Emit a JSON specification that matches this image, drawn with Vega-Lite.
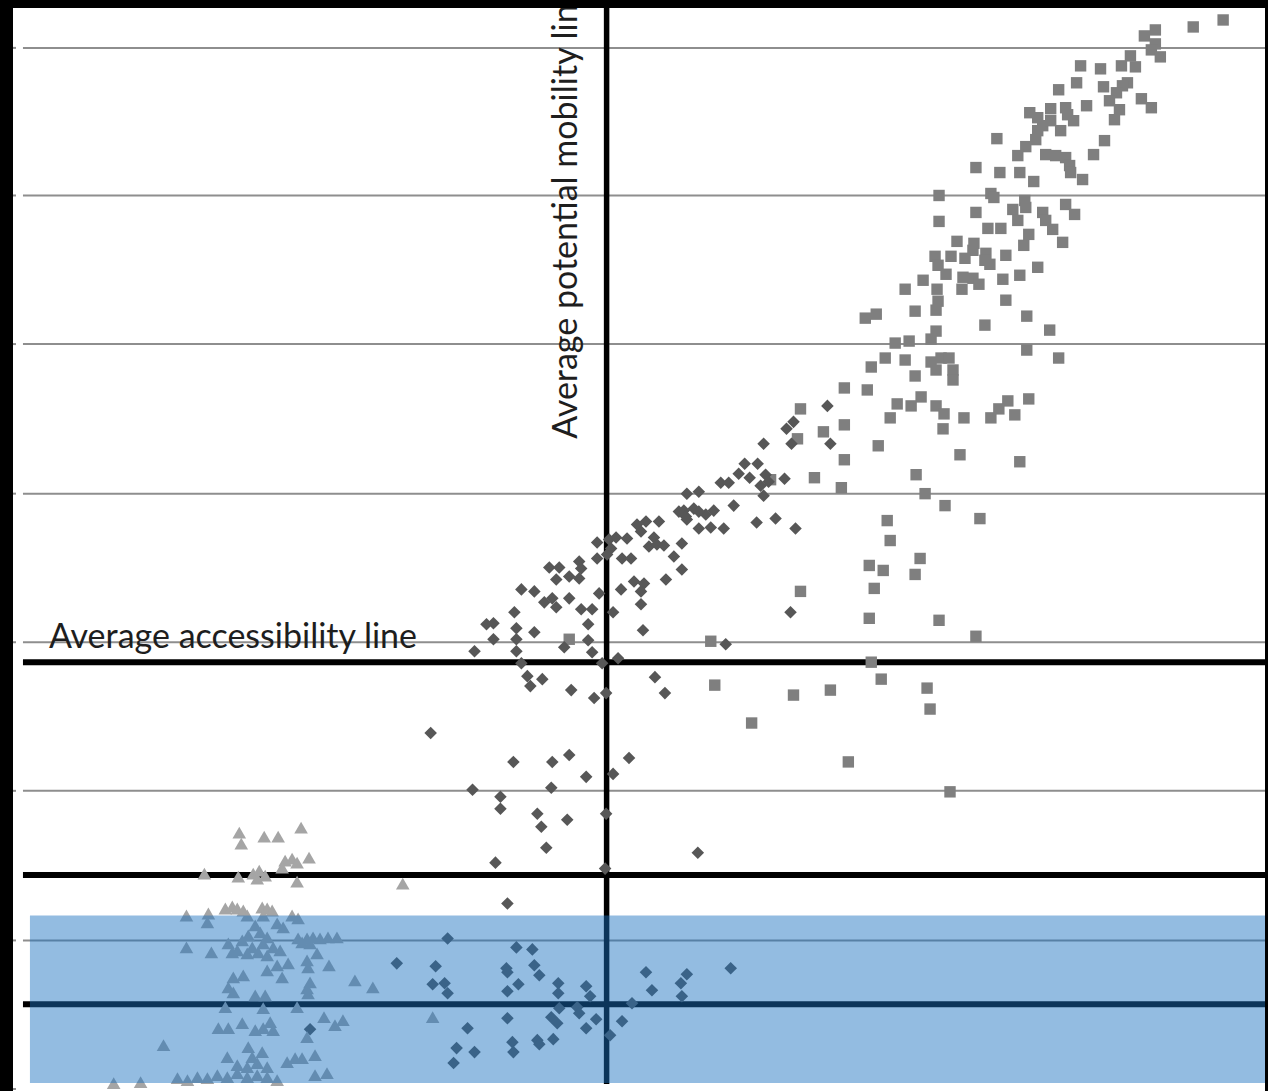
{
  "$schema": "https://vega.github.io/schema/vega-lite/v6.json",
  "width": 1268,
  "height": 1091,
  "autosize": {"type": "fit", "contains": "padding"},
  "padding": {"left": 12, "top": 5, "right": 0, "bottom": 0},
  "background": "#000000",
  "config": {"view": {"fill": "#ffffff", "stroke": null}},
  "datasets": {
    "grid": [{"y": 104.6}, {"y": 89.8}, {"y": 74.9}, {"y": 59.9}, {"y": 45.0}, {"y": 30.1}, {"y": 15.1}],
    "ticks": [{"y": 104.6}, {"y": 89.8}, {"y": 74.9}, {"y": 59.9}, {"y": 45.0}, {"y": 30.1}, {"y": 15.1}, {"y": 0.2}],
    "avg": [{"y": 43.0}, {"y": 21.65}, {"y": 8.7}],
    "vline": [{"x": 60.75}],
    "pts": [
      {"g":"s","x":122.6,"y":107.4},{"g":"s","x":119.6,"y":106.7},{"g":"s","x":115.8,"y":106.4},{"g":"s","x":114.7,"y":105.8},{"g":"s","x":115.8,"y":105.0},{"g":"s","x":115.4,"y":104.4},{"g":"s","x":116.3,"y":103.7},{"g":"s","x":113.3,"y":103.8},{"g":"s","x":113.8,"y":102.7},{"g":"s","x":112.4,"y":102.8},{"g":"s","x":110.3,"y":102.5},{"g":"s","x":108.3,"y":102.8},{"g":"s","x":107.9,"y":101.1},{"g":"s","x":106.1,"y":100.4},{"g":"s","x":110.6,"y":100.7},{"g":"s","x":113.0,"y":101.1},{"g":"s","x":112.5,"y":100.8},{"g":"s","x":111.9,"y":100.1},{"g":"s","x":111.2,"y":99.3},{"g":"s","x":112.2,"y":98.4},{"g":"s","x":111.7,"y":97.4},{"g":"s","x":108.9,"y":98.8},{"g":"s","x":114.4,"y":99.5},{"g":"s","x":115.4,"y":98.6},{"g":"s","x":103.2,"y":98.1},{"g":"s","x":104.0,"y":97.6},{"g":"s","x":105.3,"y":98.5},{"g":"s","x":106.8,"y":98.6},{"g":"s","x":107.0,"y":97.9},{"g":"s","x":107.6,"y":97.3},{"g":"s","x":104.5,"y":96.8},{"g":"s","x":105.3,"y":97.3},{"g":"s","x":106.3,"y":96.3},{"g":"s","x":104.0,"y":96.3},{"g":"s","x":99.9,"y":95.5},{"g":"s","x":103.8,"y":95.4},{"g":"s","x":102.8,"y":94.7},{"g":"s","x":102.0,"y":93.8},{"g":"s","x":104.8,"y":93.9},{"g":"s","x":105.8,"y":93.8},{"g":"s","x":106.8,"y":93.6},{"g":"s","x":107.2,"y":92.8},{"g":"s","x":107.3,"y":92.1},{"g":"s","x":108.5,"y":91.4},{"g":"s","x":110.7,"y":95.3},{"g":"s","x":109.6,"y":93.9},{"g":"s","x":97.8,"y":92.6},{"g":"s","x":100.2,"y":92.1},{"g":"s","x":102.2,"y":92.1},{"g":"s","x":103.6,"y":91.2},{"g":"s","x":94.1,"y":89.8},{"g":"s","x":99.3,"y":90.0},{"g":"s","x":99.6,"y":89.6},{"g":"s","x":102.7,"y":89.3},{"g":"s","x":102.8,"y":88.6},{"g":"s","x":101.5,"y":88.4},{"g":"s","x":102.0,"y":87.3},{"g":"s","x":97.8,"y":88.1},{"g":"s","x":94.1,"y":87.2},{"g":"s","x":99.0,"y":86.5},{"g":"s","x":100.3,"y":86.5},{"g":"s","x":104.5,"y":88.1},{"g":"s","x":104.8,"y":87.3},{"g":"s","x":105.5,"y":86.4},{"g":"s","x":106.8,"y":88.9},{"g":"s","x":107.7,"y":87.9},{"g":"s","x":106.5,"y":85.1},{"g":"s","x":95.9,"y":85.2},{"g":"s","x":97.6,"y":85.0},{"g":"s","x":97.5,"y":84.3},{"g":"s","x":96.7,"y":83.5},{"g":"s","x":95.3,"y":83.7},{"g":"s","x":93.7,"y":83.7},{"g":"s","x":94.0,"y":82.8},{"g":"s","x":94.8,"y":81.9},{"g":"s","x":92.5,"y":81.3},{"g":"s","x":90.7,"y":80.4},{"g":"s","x":93.9,"y":80.4},{"g":"s","x":96.4,"y":80.4},{"g":"s","x":96.5,"y":81.6},{"g":"s","x":97.5,"y":81.5},{"g":"s","x":98.1,"y":80.9},{"g":"s","x":98.8,"y":84.0},{"g":"s","x":99.2,"y":82.9},{"g":"s","x":98.7,"y":83.3},{"g":"s","x":100.8,"y":83.8},{"g":"s","x":100.5,"y":81.4},{"g":"s","x":102.2,"y":81.8},{"g":"s","x":102.6,"y":84.8},{"g":"s","x":103.1,"y":85.9},{"g":"s","x":104.0,"y":82.6},
      {"g":"s","x":100.8,"y":79.3},{"g":"s","x":94.0,"y":79.2},{"g":"s","x":93.8,"y":78.3},{"g":"s","x":91.7,"y":78.2},{"g":"s","x":87.8,"y":77.9},{"g":"s","x":86.7,"y":77.5},{"g":"s","x":102.9,"y":77.7},{"g":"s","x":98.7,"y":76.8},{"g":"s","x":105.2,"y":76.3},{"g":"s","x":93.8,"y":76.2},{"g":"s","x":93.3,"y":75.4},{"g":"s","x":91.1,"y":75.2},{"g":"s","x":89.7,"y":75.0},{"g":"s","x":102.9,"y":74.3},{"g":"s","x":106.1,"y":73.5},{"g":"s","x":88.7,"y":73.5},{"g":"s","x":90.7,"y":73.3},{"g":"s","x":93.3,"y":73.1},{"g":"s","x":94.3,"y":73.5},{"g":"s","x":95.1,"y":73.5},{"g":"s","x":93.8,"y":72.3},{"g":"s","x":95.5,"y":72.3},{"g":"s","x":95.5,"y":71.3},{"g":"s","x":87.3,"y":72.6},{"g":"s","x":91.7,"y":71.7},{"g":"s","x":84.6,"y":70.5},{"g":"s","x":86.9,"y":70.3},{"g":"s","x":92.3,"y":69.6},{"g":"s","x":89.9,"y":68.9},{"g":"s","x":91.3,"y":68.7},{"g":"s","x":93.8,"y":68.7},{"g":"s","x":94.6,"y":67.9},{"g":"s","x":101.0,"y":69.2},{"g":"s","x":103.1,"y":69.4},{"g":"s","x":100.1,"y":68.4},{"g":"s","x":99.3,"y":67.5},{"g":"s","x":101.7,"y":67.8},{"g":"s","x":96.6,"y":67.5},{"g":"s","x":89.2,"y":67.5},{"g":"s","x":80.2,"y":68.4},{"g":"s","x":84.6,"y":66.8},{"g":"s","x":82.5,"y":66.1},{"g":"s","x":79.9,"y":65.4},{"g":"s","x":94.5,"y":66.4},{"g":"s","x":88.0,"y":64.7},{"g":"s","x":96.2,"y":63.8},{"g":"s","x":102.2,"y":63.1},{"g":"s","x":84.6,"y":63.3},{"g":"s","x":91.8,"y":61.8},{"g":"s","x":81.6,"y":61.5},{"g":"s","x":84.3,"y":60.5},{"g":"s","x":92.7,"y":59.9},{"g":"s","x":94.7,"y":58.7},{"g":"s","x":88.9,"y":57.2},{"g":"s","x":98.2,"y":57.4},{"g":"s","x":77.2,"y":61.3},
      {"g":"s","x":80.2,"y":50.1},{"g":"s","x":71.2,"y":45.1},{"g":"s","x":57.0,"y":45.3},{"g":"s","x":71.6,"y":40.7},{"g":"s","x":79.5,"y":39.7},{"g":"s","x":83.2,"y":40.2},{"g":"s","x":89.2,"y":55.2},{"g":"s","x":92.2,"y":53.4},{"g":"s","x":87.1,"y":52.7},{"g":"s","x":88.5,"y":52.2},{"g":"s","x":91.7,"y":51.8},{"g":"s","x":87.6,"y":50.4},{"g":"s","x":87.1,"y":47.4},{"g":"s","x":94.1,"y":47.2},{"g":"s","x":97.8,"y":45.6},{"g":"s","x":87.3,"y":43.0},{"g":"s","x":88.3,"y":41.3},{"g":"s","x":92.9,"y":40.4},{"g":"s","x":93.2,"y":38.3},{"g":"s","x":75.3,"y":36.9},{"g":"s","x":85.0,"y":33.0},{"g":"s","x":95.2,"y":30.0},
      {"g":"d","x":82.9,"y":68.7},{"g":"d","x":79.5,"y":67.1},{"g":"d","x":78.8,"y":66.4},{"g":"d","x":79.3,"y":64.9},{"g":"d","x":83.2,"y":64.9},{"g":"d","x":76.5,"y":64.9},{"g":"d","x":74.6,"y":62.9},{"g":"d","x":75.9,"y":62.9},{"g":"d","x":74.0,"y":61.9},{"g":"d","x":75.1,"y":61.5},{"g":"d","x":76.7,"y":61.8},{"g":"d","x":77.0,"y":61.1},{"g":"d","x":76.2,"y":60.7},{"g":"d","x":76.5,"y":59.7},{"g":"d","x":78.6,"y":61.4},{"g":"d","x":72.2,"y":61.0},{"g":"d","x":73.0,"y":61.0},{"g":"d","x":68.8,"y":59.9},{"g":"d","x":70.0,"y":60.1},{"g":"d","x":69.5,"y":58.4},{"g":"d","x":68.5,"y":58.2},{"g":"d","x":71.5,"y":58.2},{"g":"d","x":70.7,"y":57.8},{"g":"d","x":73.5,"y":58.7},{"g":"d","x":75.8,"y":57.0},{"g":"d","x":77.7,"y":57.4},{"g":"d","x":79.7,"y":56.4},{"g":"d","x":68.0,"y":58.1},{"g":"d","x":68.7,"y":57.6},{"g":"d","x":70.0,"y":58.1},{"g":"d","x":68.8,"y":57.3},{"g":"d","x":70.0,"y":56.4},{"g":"d","x":71.2,"y":56.5},{"g":"d","x":72.5,"y":56.4},{"g":"d","x":66.0,"y":57.1},{"g":"d","x":63.8,"y":56.8},{"g":"d","x":64.2,"y":56.1},{"g":"d","x":64.7,"y":57.1},{"g":"d","x":65.5,"y":55.5},{"g":"d","x":62.8,"y":55.4},{"g":"d","x":59.8,"y":55.0},{"g":"d","x":61.0,"y":55.3},{"g":"d","x":61.7,"y":55.5},{"g":"d","x":61.2,"y":54.4},{"g":"d","x":60.8,"y":53.8},{"g":"d","x":59.8,"y":53.4},{"g":"d","x":62.3,"y":53.4},{"g":"d","x":63.2,"y":53.4},{"g":"d","x":65.0,"y":54.6},{"g":"d","x":65.8,"y":54.8},{"g":"d","x":66.5,"y":54.7},{"g":"d","x":67.5,"y":53.6},{"g":"d","x":68.3,"y":52.3},{"g":"d","x":66.7,"y":51.3},{"g":"d","x":68.3,"y":54.9},{"g":"d","x":58.0,"y":53.1},{"g":"d","x":58.2,"y":52.4},{"g":"d","x":55.0,"y":52.5},{"g":"d","x":56.0,"y":52.5},{"g":"d","x":55.7,"y":51.3},{"g":"d","x":57.0,"y":51.6},{"g":"d","x":58.0,"y":51.4},{"g":"d","x":52.2,"y":50.3},{"g":"d","x":53.5,"y":50.1},{"g":"d","x":54.5,"y":49.0},{"g":"d","x":55.3,"y":49.4},{"g":"d","x":55.7,"y":48.5},{"g":"d","x":57.0,"y":49.4},{"g":"d","x":58.2,"y":48.3},{"g":"d","x":59.3,"y":48.3},{"g":"d","x":60.0,"y":49.9},{"g":"d","x":62.2,"y":50.3},{"g":"d","x":63.5,"y":51.1},{"g":"d","x":64.5,"y":50.9},{"g":"d","x":64.2,"y":50.1},{"g":"d","x":64.2,"y":48.8},{"g":"d","x":61.4,"y":48.0},{"g":"d","x":51.5,"y":48.0},{"g":"d","x":48.7,"y":46.8},{"g":"d","x":49.4,"y":46.9},{"g":"d","x":51.7,"y":46.4},{"g":"d","x":51.7,"y":45.3},{"g":"d","x":53.5,"y":46.0},{"g":"d","x":49.4,"y":45.3},{"g":"d","x":47.5,"y":44.1},{"g":"d","x":51.7,"y":44.1},{"g":"d","x":52.2,"y":42.9},{"g":"d","x":52.8,"y":41.6},{"g":"d","x":53.1,"y":40.6},{"g":"d","x":54.3,"y":41.3},{"g":"d","x":57.2,"y":40.2},{"g":"d","x":58.9,"y":46.8},{"g":"d","x":58.9,"y":45.2},{"g":"d","x":59.3,"y":44.0},{"g":"d","x":56.5,"y":44.5},{"g":"d","x":60.3,"y":42.9},{"g":"d","x":61.9,"y":43.4},{"g":"d","x":64.4,"y":46.2},{"g":"d","x":65.6,"y":41.5},{"g":"d","x":66.6,"y":39.9},{"g":"d","x":59.5,"y":39.4},{"g":"d","x":60.7,"y":39.9},{"g":"d","x":79.2,"y":48.0},{"g":"d","x":72.7,"y":44.8},
      {"g":"d","x":43.1,"y":35.9},{"g":"d","x":51.4,"y":33.0},{"g":"d","x":55.3,"y":33.0},{"g":"d","x":57.0,"y":33.7},{"g":"d","x":58.7,"y":31.5},{"g":"d","x":63.0,"y":33.4},{"g":"d","x":61.4,"y":31.8},{"g":"d","x":47.3,"y":30.2},{"g":"d","x":55.2,"y":30.4},{"g":"d","x":50.1,"y":29.5},{"g":"d","x":50.1,"y":28.3},{"g":"d","x":53.8,"y":27.8},{"g":"d","x":54.2,"y":26.5},{"g":"d","x":56.8,"y":27.2},{"g":"d","x":60.7,"y":27.8},{"g":"d","x":54.7,"y":24.4},{"g":"d","x":69.9,"y":23.9},{"g":"d","x":49.6,"y":22.9},{"g":"d","x":60.6,"y":22.3},{"g":"d","x":50.8,"y":18.8},
      {"g":"d","x":44.8,"y":15.3},{"g":"d","x":39.7,"y":12.8},{"g":"d","x":43.6,"y":12.5},{"g":"d","x":43.3,"y":10.7},{"g":"d","x":44.5,"y":10.8},{"g":"d","x":44.8,"y":9.8},{"g":"d","x":51.7,"y":14.4},{"g":"d","x":53.3,"y":14.2},{"g":"d","x":50.7,"y":12.3},{"g":"d","x":50.8,"y":11.9},{"g":"d","x":53.5,"y":12.6},{"g":"d","x":54.0,"y":11.6},{"g":"d","x":51.9,"y":10.7},{"g":"d","x":50.8,"y":10.0},{"g":"d","x":55.9,"y":10.8},{"g":"d","x":55.9,"y":9.8},{"g":"d","x":58.7,"y":10.5},{"g":"d","x":59.1,"y":9.5},{"g":"d","x":56.0,"y":8.3},{"g":"d","x":55.2,"y":7.4},{"g":"d","x":55.8,"y":6.8},{"g":"d","x":57.8,"y":8.4},{"g":"d","x":58.0,"y":7.8},{"g":"d","x":59.7,"y":7.2},{"g":"d","x":58.7,"y":6.3},{"g":"d","x":50.8,"y":7.3},{"g":"d","x":46.8,"y":6.3},{"g":"d","x":45.7,"y":4.3},{"g":"d","x":47.5,"y":3.9},{"g":"d","x":45.4,"y":2.8},{"g":"d","x":51.3,"y":4.9},{"g":"d","x":51.4,"y":3.9},{"g":"d","x":53.8,"y":5.1},{"g":"d","x":54.0,"y":4.7},{"g":"d","x":55.4,"y":5.2},{"g":"d","x":61.1,"y":5.6},{"g":"d","x":62.3,"y":7.0},{"g":"d","x":63.3,"y":8.8},{"g":"d","x":64.7,"y":11.9},{"g":"d","x":65.3,"y":10.1},{"g":"d","x":68.2,"y":10.8},{"g":"d","x":68.8,"y":11.7},{"g":"d","x":68.3,"y":9.5},{"g":"d","x":73.2,"y":12.3},{"g":"d","x":31.0,"y":6.2},
      {"g":"t","x":23.9,"y":25.9},{"g":"t","x":24.1,"y":24.8},{"g":"t","x":26.4,"y":25.5},{"g":"t","x":27.8,"y":25.5},{"g":"t","x":30.1,"y":26.4},{"g":"t","x":30.9,"y":23.4},{"g":"t","x":28.5,"y":23.1},{"g":"t","x":29.2,"y":23.3},{"g":"t","x":29.7,"y":22.9},{"g":"t","x":28.2,"y":22.4},{"g":"t","x":20.4,"y":21.8},{"g":"t","x":23.8,"y":21.5},{"g":"t","x":25.3,"y":21.8},{"g":"t","x":25.9,"y":22.1},{"g":"t","x":26.5,"y":21.6},{"g":"t","x":25.7,"y":21.3},{"g":"t","x":29.7,"y":21.0},{"g":"t","x":40.3,"y":20.8},{"g":"t","x":18.6,"y":17.6},{"g":"t","x":20.8,"y":17.8},{"g":"t","x":20.7,"y":16.9},{"g":"t","x":22.5,"y":18.3},{"g":"t","x":23.2,"y":18.5},{"g":"t","x":23.7,"y":18.3},{"g":"t","x":24.3,"y":18.1},{"g":"t","x":24.7,"y":17.6},{"g":"t","x":26.2,"y":18.4},{"g":"t","x":26.7,"y":18.3},{"g":"t","x":27.2,"y":18.1},{"g":"t","x":26.3,"y":17.6},{"g":"t","x":29.2,"y":17.6},{"g":"t","x":29.8,"y":17.3},{"g":"t","x":25.5,"y":16.6},{"g":"t","x":26.0,"y":15.9},{"g":"t","x":24.8,"y":15.6},{"g":"t","x":24.2,"y":15.1},{"g":"t","x":26.7,"y":15.4},{"g":"t","x":25.2,"y":14.4},{"g":"t","x":26.3,"y":14.8},{"g":"t","x":27.3,"y":14.4},{"g":"t","x":23.7,"y":14.1},{"g":"t","x":24.7,"y":13.8},{"g":"t","x":25.8,"y":13.9},{"g":"t","x":26.7,"y":13.6},{"g":"t","x":22.8,"y":14.8},{"g":"t","x":23.2,"y":13.9},{"g":"t","x":27.7,"y":16.8},{"g":"t","x":28.3,"y":16.4},{"g":"t","x":29.8,"y":15.3},{"g":"t","x":30.7,"y":15.3},{"g":"t","x":31.3,"y":15.4},{"g":"t","x":32.0,"y":15.3},{"g":"t","x":32.8,"y":15.4},{"g":"t","x":33.7,"y":15.4},{"g":"t","x":30.2,"y":14.9},{"g":"t","x":31.0,"y":14.8},{"g":"t","x":18.6,"y":14.4},{"g":"t","x":21.1,"y":13.9},{"g":"t","x":28.0,"y":14.1},{"g":"t","x":28.8,"y":12.8},{"g":"t","x":27.7,"y":12.6},{"g":"t","x":26.7,"y":12.1},{"g":"t","x":28.2,"y":11.4},{"g":"t","x":30.7,"y":13.1},{"g":"t","x":31.7,"y":13.8},{"g":"t","x":30.8,"y":12.4},{"g":"t","x":32.9,"y":12.6},{"g":"t","x":35.5,"y":11.1},{"g":"t","x":37.3,"y":10.4},{"g":"t","x":23.3,"y":11.4},{"g":"t","x":24.3,"y":11.6},{"g":"t","x":22.8,"y":10.4},{"g":"t","x":23.3,"y":9.9},{"g":"t","x":25.5,"y":9.6},{"g":"t","x":26.5,"y":9.6},{"g":"t","x":31.0,"y":10.9},{"g":"t","x":30.8,"y":9.8},{"g":"t","x":30.7,"y":10.3},{"g":"t","x":22.5,"y":8.4},{"g":"t","x":26.3,"y":8.3},{"g":"t","x":29.7,"y":8.4},{"g":"t","x":21.8,"y":6.3},{"g":"t","x":22.8,"y":6.3},{"g":"t","x":24.2,"y":6.8},{"g":"t","x":25.5,"y":6.1},{"g":"t","x":26.3,"y":6.3},{"g":"t","x":27.0,"y":6.9},{"g":"t","x":27.3,"y":6.1},{"g":"t","x":32.4,"y":7.4},{"g":"t","x":33.5,"y":6.6},{"g":"t","x":34.3,"y":7.1},{"g":"t","x":30.7,"y":5.4},{"g":"t","x":16.3,"y":4.6},{"g":"t","x":22.7,"y":3.4},{"g":"t","x":24.8,"y":4.4},{"g":"t","x":26.2,"y":3.9},{"g":"t","x":25.2,"y":3.4},{"g":"t","x":28.7,"y":2.9},{"g":"t","x":29.5,"y":3.3},{"g":"t","x":30.2,"y":3.3},{"g":"t","x":31.5,"y":3.6},{"g":"t","x":23.7,"y":2.6},{"g":"t","x":24.7,"y":2.4},{"g":"t","x":25.7,"y":2.8},{"g":"t","x":26.7,"y":2.4},{"g":"t","x":17.7,"y":1.3},{"g":"t","x":18.7,"y":1.1},{"g":"t","x":19.7,"y":1.4},{"g":"t","x":20.7,"y":1.3},{"g":"t","x":21.7,"y":1.6},{"g":"t","x":22.7,"y":1.4},{"g":"t","x":23.7,"y":1.8},{"g":"t","x":24.7,"y":1.4},{"g":"t","x":25.7,"y":1.6},{"g":"t","x":26.7,"y":1.4},{"g":"t","x":27.7,"y":1.1},{"g":"t","x":31.5,"y":1.6},{"g":"t","x":32.7,"y":1.8},{"g":"t","x":11.3,"y":0.8},{"g":"t","x":14.0,"y":0.9},{"g":"t","x":43.3,"y":7.4}
    ]
  },
  "layer": [
    {
      "data": {"name": "grid"},
      "mark": {"type": "rule", "color": "#8e8e8e", "strokeWidth": 2},
      "encoding": {
        "y": {"field": "y", "type": "quantitative", "axis": null, "scale": {"domain": [0, 108.6], "nice": false, "zero": false}},
        "x": {"datum": 2.2, "type": "quantitative", "axis": null, "scale": {"domain": [1.2, 126.8], "nice": false, "zero": false}},
        "x2": {"datum": 126.8}
      }
    },
    {
      "data": {"name": "ticks"},
      "mark": {"type": "rule", "color": "#8e8e8e", "strokeWidth": 2},
      "encoding": {
        "y": {"field": "y", "type": "quantitative", "axis": null, "scale": {"domain": [0, 108.6], "nice": false, "zero": false}},
        "x": {"datum": 1.2, "type": "quantitative", "axis": null, "scale": {"domain": [1.2, 126.8], "nice": false, "zero": false}},
        "x2": {"datum": 1.5}
      }
    },
    {
      "data": {"name": "avg"},
      "mark": {"type": "rule", "color": "#000000", "strokeWidth": 6},
      "encoding": {
        "y": {"field": "y", "type": "quantitative", "axis": null, "scale": {"domain": [0, 108.6], "nice": false, "zero": false}},
        "x": {"datum": 2.2, "type": "quantitative", "axis": null, "scale": {"domain": [1.2, 126.8], "nice": false, "zero": false}},
        "x2": {"datum": 126.8}
      }
    },
    {
      "data": {"name": "vline"},
      "mark": {"type": "rule", "color": "#000000", "strokeWidth": 5.5},
      "encoding": {
        "x": {"field": "x", "type": "quantitative", "axis": null, "scale": {"domain": [1.2, 126.8], "nice": false, "zero": false}},
        "y": {"datum": 0.7, "type": "quantitative", "axis": null, "scale": {"domain": [0, 108.6], "nice": false, "zero": false}},
        "y2": {"datum": 108.6}
      }
    },
    {
      "data": {"name": "pts"},
      "mark": {"type": "point", "filled": true, "opacity": 1},
      "encoding": {
        "x": {"field": "x", "type": "quantitative", "axis": null, "scale": {"domain": [1.2, 126.8], "nice": false, "zero": false}},
        "y": {"field": "y", "type": "quantitative", "axis": null, "scale": {"domain": [0, 108.6], "nice": false, "zero": false}},
        "shape": {"field": "g", "type": "nominal", "legend": null, "scale": {"domain": ["s", "d", "t"], "range": ["square", "diamond", "triangle-up"]}},
        "color": {"field": "g", "type": "nominal", "legend": null, "scale": {"domain": ["s", "d", "t"], "range": ["#7f7f7f", "#575757", "#a5a5a5"]}},
        "size": {"field": "g", "type": "ordinal", "legend": null, "scale": {"domain": ["s", "d", "t"], "range": [130, 185, 185]}}
      }
    },
    {
      "data": {"values": [{}]},
      "mark": {"type": "rect", "color": "#1a70c0", "opacity": 0.47},
      "encoding": {
        "x": {"datum": 2.9, "type": "quantitative", "axis": null, "scale": {"domain": [1.2, 126.8], "nice": false, "zero": false}},
        "x2": {"datum": 126.8},
        "y": {"datum": 0.8, "type": "quantitative", "axis": null, "scale": {"domain": [0, 108.6], "nice": false, "zero": false}},
        "y2": {"datum": 17.6}
      }
    },
    {
      "data": {"values": [{}]},
      "mark": {"type": "text", "text": "Average accessibility line", "font": "Lato", "fontSize": 34, "color": "#1e1e1e", "align": "left", "baseline": "alphabetic"},
      "encoding": {
        "x": {"datum": 4.8, "type": "quantitative", "axis": null, "scale": {"domain": [1.2, 126.8], "nice": false, "zero": false}},
        "y": {"datum": 44.4, "type": "quantitative", "axis": null, "scale": {"domain": [0, 108.6], "nice": false, "zero": false}}
      }
    },
    {
      "data": {"values": [{}]},
      "mark": {"type": "text", "text": "Average potential mobility line", "font": "Lato", "fontSize": 34, "color": "#1e1e1e", "align": "left", "baseline": "alphabetic", "angle": 270, "clip": true},
      "encoding": {
        "x": {"datum": 57.8, "type": "quantitative", "axis": null, "scale": {"domain": [1.2, 126.8], "nice": false, "zero": false}},
        "y": {"datum": 65.4, "type": "quantitative", "axis": null, "scale": {"domain": [0, 108.6], "nice": false, "zero": false}}
      }
    }
  ]
}
